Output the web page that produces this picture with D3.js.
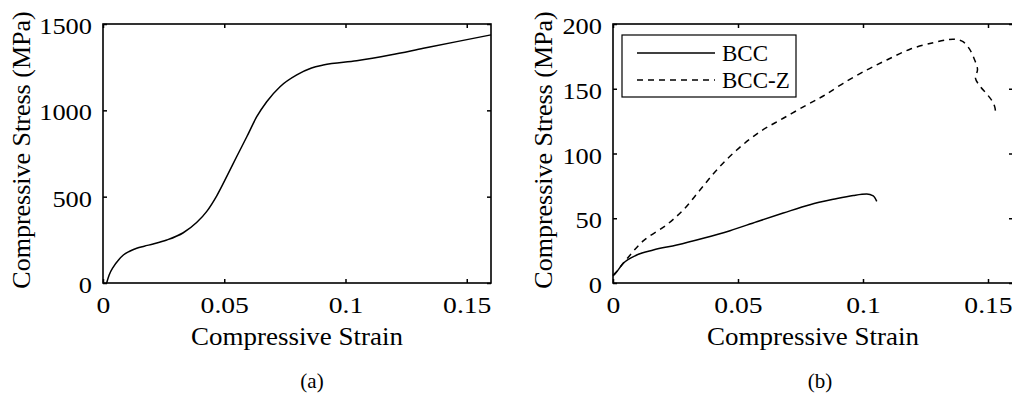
<!DOCTYPE html>
<html>
<head>
<meta charset="utf-8">
<script src="https://cdn.jsdelivr.net/npm/d3@7"></script>
<style>
  html, body { margin: 0; padding: 0; background: #fff; }
  svg, svg text { font-family: "Liberation Serif", "Times New Roman", Times, serif !important; }
</style>
</head>
<body>
<svg id="chart" width="1012" height="394"></svg>
<script>
// ---------- data ----------
const xTicks = [0, 0.05, 0.1, 0.15];
const xTickLabels = ["0", "0.05", "0.1", "0.15"];
const yTicksA = [0, 500, 1000, 1500];
const yTicksB = [0, 50, 100, 150, 200];

// Panel (a)
const strainA = [0.0015, 0.0025, 0.0043, 0.0065, 0.0084, 0.0110, 0.0139, 0.0170, 0.0207, 0.0263, 0.0331, 0.0386, 0.0428, 0.0469, 0.0510, 0.0551, 0.0593, 0.0634, 0.0675, 0.0730, 0.0799, 0.0860, 0.0908, 0.1046, 0.1184, 0.1321, 0.1459, 0.1600];
const stressA = [0, 45, 94, 135, 162, 184, 201, 213, 226, 249, 291, 350, 415, 505, 616, 731, 847, 963, 1050, 1137, 1205, 1245, 1262, 1287, 1320, 1359, 1398, 1437];

// Panel (b) BCC
const strainBCC = [0.0, 0.0008, 0.0041, 0.0095, 0.0161, 0.0255, 0.0361, 0.0468, 0.0575, 0.0681, 0.0788, 0.0881, 0.0961, 0.1015, 0.1041, 0.1055];
const stressBCC = [5.5, 7.0, 15.2, 21.6, 25.5, 29.3, 34.5, 40.4, 47.3, 54.0, 60.5, 64.6, 67.6, 68.7, 67.2, 63.0];

// Panel (b) BCC-Z
const strainBCCZ = [0.0, 0.0008, 0.0055, 0.0121, 0.0215, 0.0281, 0.0348, 0.0415, 0.0495, 0.0588, 0.0681, 0.0775, 0.0841, 0.0921, 0.1015, 0.1095, 0.1188, 0.1281, 0.1340, 0.1368, 0.1400, 0.1425, 0.1445, 0.1458, 0.1450, 0.1470, 0.1495, 0.1515, 0.1527, 0.1531];
const stressBCCZ = [6.0, 7.5, 18.5, 32.5, 45.0, 56.4, 71.8, 87.3, 102.7, 116.8, 127.2, 137.5, 144.4, 154.2, 164.5, 172.2, 180.5, 185.6, 188.0, 188.2, 186.3, 181.0, 173.0, 165.0, 158.0, 151.5, 146.0, 141.0, 136.0, 130.5];

const seriesB = [
  { name: "BCC", x: strainBCC, y: stressBCC, dash: null, curve: d3.curveMonotoneX },
  { name: "BCC-Z", x: strainBCCZ, y: stressBCCZ, dash: "6,5", curve: d3.curveCatmullRom.alpha(0.5) }
];

// ---------- drawing ----------
const svg = d3.select("#chart");
const FONT_TICK = 24, FONT_LABEL = 26;
const SERIF = '"Liberation Serif", "Times New Roman", Times, serif';

function widen(sel, factor) {
  sel.each(function () {
    const w = this.getComputedTextLength();
    if (w > 0) d3.select(this).attr("textLength", w * factor).attr("lengthAdjust", "spacingAndGlyphs");
  });
}

function panel(opts) {
  const { left, right, top, bottom, yMax, yTicks, xMax } = opts;
  const x = d3.scaleLinear().domain([0, xMax]).range([left, right]);
  const y = d3.scaleLinear().domain([0, yMax]).range([bottom, top]);
  const g = svg.append("g");

  const tl = 4;
  const bottomAxis = d3.axisBottom(x).tickValues(xTicks).tickFormat((d, i) => xTickLabels[i]).tickSizeInner(-tl).tickSizeOuter(0).tickPadding(14);
  const topAxis = d3.axisTop(x).tickValues(xTicks).tickFormat("").tickSizeInner(-tl).tickSizeOuter(0);
  const leftAxis = d3.axisLeft(y).tickValues(yTicks).tickFormat(d3.format("d")).tickSizeInner(-tl).tickSizeOuter(0).tickPadding(11);
  const rightAxis = d3.axisRight(y).tickValues(yTicks).tickFormat("").tickSizeInner(-tl).tickSizeOuter(0);

  const styleAxis = sel => {
    sel.attr("font-family", null).attr("font-size", null);
    sel.select(".domain").remove();
    sel.selectAll(".tick line").attr("stroke", "#000").attr("stroke-width", 1.5);
    sel.selectAll(".tick text").attr("fill", "#000").style("font-size", FONT_TICK + "px")
      .style("font-family", SERIF);
  };
  g.append("g").attr("transform", `translate(0,${bottom})`).call(bottomAxis).call(styleAxis)
    .selectAll(".tick text").attr("dy", "0.68em").call(widen, 1.15);
  g.append("g").attr("transform", `translate(0,${top})`).call(topAxis).call(styleAxis);
  g.append("g").attr("transform", `translate(${left},0)`).call(leftAxis).call(styleAxis)
    .selectAll(".tick text").attr("dy", "0.4em").call(widen, 1.1);
  g.append("g").attr("transform", `translate(${right},0)`).call(rightAxis).call(styleAxis);

  g.append("rect").attr("x", left).attr("y", top).attr("width", right - left).attr("height", bottom - top)
    .attr("fill", "none").attr("stroke", "#000").attr("stroke-width", 1.6);

  g.append("text").attr("x", (left + right) / 2).attr("y", opts.xLabelY)
    .attr("text-anchor", "middle").style("font-size", FONT_LABEL + "px")
    .attr("textLength", 212).attr("lengthAdjust", "spacingAndGlyphs").text("Compressive Strain");
  g.append("text").attr("transform", `translate(${opts.yLabelX},${opts.yLabelMid}) rotate(-90)`)
    .attr("text-anchor", "middle").style("font-size", FONT_LABEL + "px").attr("dy", "0.35em").text("Compressive Stress (MPa)");
  g.append("text").attr("x", opts.capX).attr("y", opts.capY).attr("text-anchor", "middle")
    .style("font-size", "21px").text(opts.caption);
  return { g, x, y };
}

const line = (x, y, curve) => d3.line().x(d => x(d[0])).y(d => y(d[1])).curve(curve);

// Panel (a)
const pa = panel({ left: 103, right: 491, top: 24, bottom: 283, xMax: 0.16, yMax: 1500, yTicks: yTicksA,
  xLabelY: 345, yLabelX: 21, yLabelMid: 150, capX: 312, capY: 388, caption: "(a)" });
pa.g.append("path").datum(strainA.map((s, i) => [s, stressA[i]]))
  .attr("d", line(pa.x, pa.y, d3.curveMonotoneX)).attr("fill", "none").attr("stroke", "#000").attr("stroke-width", 1.5);

// Panel (b)
const pb = panel({ left: 613, right: 1013, top: 24, bottom: 283, xMax: 0.16, yMax: 200, yTicks: yTicksB,
  xLabelY: 345, yLabelX: 543, yLabelMid: 150, capX: 820, capY: 388, caption: "(b)" });
seriesB.forEach(s => {
  pb.g.append("path").datum(s.x.map((v, i) => [v, s.y[i]]))
    .attr("d", line(pb.x, pb.y, s.curve)).attr("fill", "none").attr("stroke", "#000").attr("stroke-width", 1.5)
    .attr("stroke-dasharray", s.dash);
});

// Legend
const lg = pb.g.append("g");
lg.append("rect").attr("x", 622).attr("y", 35).attr("width", 174).attr("height", 62)
  .attr("fill", "#fff").attr("stroke", "#000").attr("stroke-width", 1.2);
seriesB.forEach((s, i) => {
  const yy = 53 + i * 27;
  lg.append("line").attr("x1", 637).attr("x2", 715).attr("y1", yy).attr("y2", yy)
    .attr("stroke", "#000").attr("stroke-width", 1.3).attr("stroke-dasharray", s.dash);
  lg.append("text").attr("x", 722).attr("y", yy).attr("dy", "0.35em").style("font-size", "23px").text(s.name);
});
</script>
</body>
</html>
